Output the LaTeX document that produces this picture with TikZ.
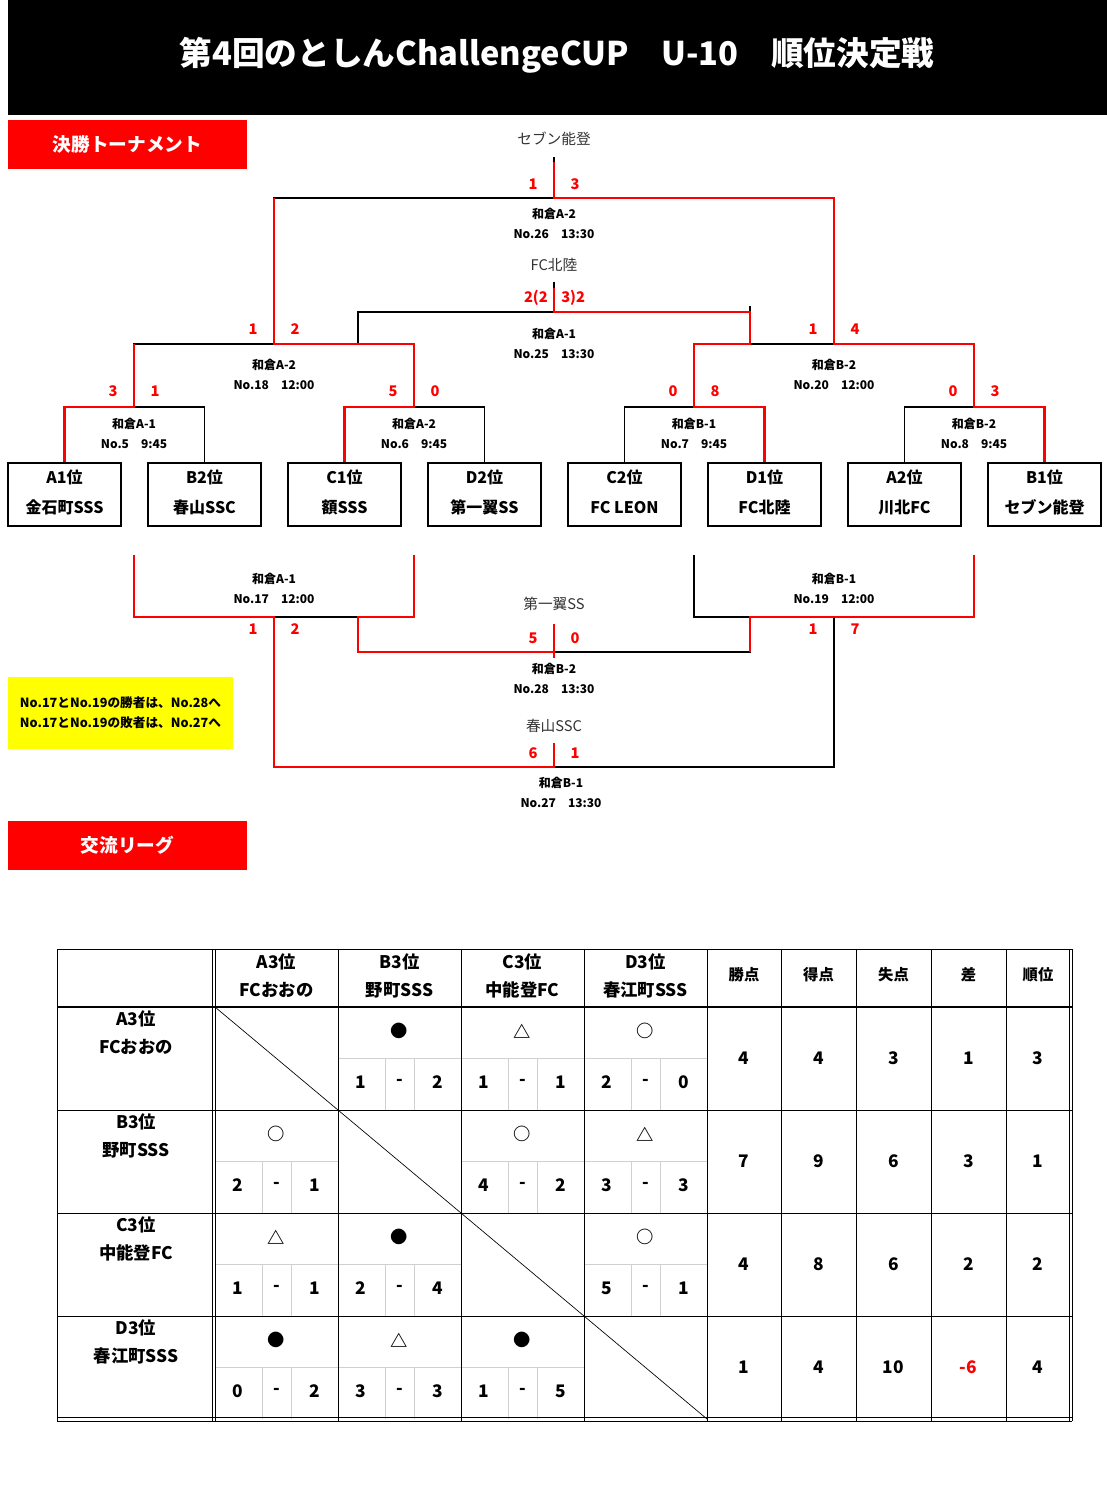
\documentclass[tikz,border=0pt]{standalone}
\usepackage{fontspec}
\setmainfont{Noto Sans CJK JP}
\usetikzlibrary{positioning}

\definecolor{ngrey}{RGB}{51,51,51}
\definecolor{lgrey}{RGB}{208,208,208}
\definecolor{nyellow}{RGB}{255,255,0}

\tikzset{
  team/.style={draw, line width=0.8pt, minimum width=84.75pt, minimum height=47.25pt, inner sep=0pt, align=center, font=\fontsize{12}{22.5}\selectfont\bfseries},
  lose/.style={line width=0.8pt},
  win/.style={line width=2.1pt, red},
  score/.style={text=red, inner sep=0pt, font=\fontsize{11}{13}\selectfont\bfseries},
  match/.style={align=center, inner sep=0pt, font=\fontsize{9}{15}\selectfont\bfseries},
  pname/.style={inner sep=0pt, text=ngrey, font=\fontsize{11}{13}\selectfont},
  banner/.style={fill=red, text=white, minimum width=179.25pt, minimum height=36.75pt, font=\fontsize{14}{16}\selectfont\bfseries},
  tbl/.style={line width=0.75pt},
  thin/.style={lgrey, line width=0.75pt},
  cell/.style={inner sep=0pt, align=center, font=\fontsize{13}{21}\selectfont\bfseries},
  head/.style={inner sep=0pt, font=\fontsize{11.5}{14}\selectfont\bfseries},
}

\begin{document}
\begin{tikzpicture}[x=0.75pt,y=-0.75pt]
\useasboundingbox (0,0) rectangle (1107,1511);

% title and banners
\fill (8,0) rectangle (1107,115);
\node[text=white, font=\fontsize{24.5}{30}\selectfont\bfseries] (title) at (557,55) {第4回のとしんChallengeCUP　U-10　順位決定戦};
\node[banner] (kessho) at (127.5,144.5) {決勝トーナメント};
\node[banner] (league) at (127.5,845.5) {交流リーグ};

% teams
\foreach \rk/\tm [count=\k] in {A1位/金石町SSS, B2位/春山SSC, C1位/額SSS, D2位/第一翼SS, C2位/FC LEON, D1位/FC北陸, A2位/川北FC, B1位/セブン能登}
  \node[team] (t\k) at (-75.5+140*\k,494.5) {\rk\\\tm\vphantom{位}\rule[-4pt]{0pt}{4pt}};

% junctions
\coordinate (c5) at (134,407);
\coordinate (c6) at (414,407);
\coordinate (c7) at (694,407);
\coordinate (c8) at (974,407);
\coordinate (c18) at (274,344);
\coordinate (c20) at (834,344);
\coordinate (c25) at (554,312);
\coordinate (c26) at (554,198);
\coordinate (a25) at (358,344);
\coordinate (b25) at (750,344);
\coordinate (e25) at (750,306);
\coordinate (k26) at (554,157);
\coordinate (r26) at (554,162);
\coordinate (k25) at (554,282);
\coordinate (r25) at (554,288);

\coordinate (p17) at (134,555);
\coordinate (q17) at (414,555);
\coordinate (p19) at (694,555);
\coordinate (q19) at (974,555);
\coordinate (c17) at (274,617);
\coordinate (c19) at (834,617);
\coordinate (f17) at (358,617);
\coordinate (f19) at (750,617);
\coordinate (c28) at (554,652);
\coordinate (c27) at (554,767);
\coordinate (u28) at (554,624);
\coordinate (v28) at (554,658);
\coordinate (u27) at (554,743);

% bracket
\draw[lose] (t1.north) |- (c5) -| (t2.north);
\draw[lose] (t3.north) |- (c6) -| (t4.north);
\draw[lose] (t5.north) |- (c7) -| (t6.north);
\draw[lose] (t7.north) |- (c8) -| (t8.north);
\draw[lose] (c5) |- (c18) -| (c6);
\draw[lose] (c7) |- (c20) -| (c8);
\draw[lose] (c18) |- (c26) -| (c20);
\draw[lose] (a25) |- (c25) -| (e25) -- (b25);
\draw[lose] (c26) -- (k26);
\draw[lose] (c25) -- (k25);
\draw[lose] (p17) |- (c17) -| (q17);
\draw[lose] (p19) |- (c19) -| (q19);
\draw[lose] (f17) |- (c28) -| (f19);
\draw[lose] (c17) |- (c27) -| (c19);

\begin{scope}[win]
\draw (t1.north) |- (c5) -- (c5 |- c18);
\draw (t3.north) |- (c6) -- (c6 |- c18) -- (c18) -- (c18 |- c26);
\draw (t6.north) |- (c7) -- (c7 |- c20) -- (b25) -- (b25 |- c25) -- (c25) -- (r25);
\draw (t8.north) |- (c8) -- (c8 |- c20) -- (c20) -- (c20 |- c26) -- (c26) -- (r26);
\draw (p17) |- (c17) |- (c27) -- (u27);
\draw (q17) |- (f17) |- (c28);
\draw (u28) -- (v28);
\draw (q19) |- (f19) -- (f19 |- c28);
\end{scope}

% scores
\foreach \x/\y/\s [count=\k] in {533/184/1, 575/184/3, 253/329/1, 295/329/2, 813/329/1, 855/329/4,
  113/391/3, 155/391/1, 393/391/5, 435/391/0, 673/391/0, 715/391/8, 953/391/0, 995/391/3,
  253/629/1, 295/629/2, 813/629/1, 855/629/7, 533/638/5, 575/638/0, 533/753/6, 575/753/1}
  \node[score] (s\k) at (\x,\y) {\s};
\node[score, anchor=east] (pkl) at (548,298) {2(2};
\node[score, anchor=west] (pkr) at (561,298) {3)2};

% match labels
\foreach \x/\y/\ct/\no [count=\k] in {554/223/和倉A-2/No.26　13:30, 554/343/和倉A-1/No.25　13:30,
  274/374/和倉A-2/No.18　12:00, 834/374/和倉B-2/No.20　12:00,
  134/433/和倉A-1/No.5　9:45, 414/433/和倉A-2/No.6　9:45, 694/433/和倉B-1/No.7　9:45, 974/433/和倉B-2/No.8　9:45,
  274/588/和倉A-1/No.17　12:00, 834/588/和倉B-1/No.19　12:00,
  554/678/和倉B-2/No.28　13:30, 561/792/和倉B-1/No.27　13:30}
  \node[match] (m\k) at (\x,\y) {\ct\\\no};

% winners
\node[pname] (w26) at (554,139) {セブン能登};
\node[pname] (w25) at (554,265) {FC北陸};
\node[pname] (w28) at (554,604) {第一翼SS};
\node[pname] (w27) at (554,726) {春山SSC};

\node[fill=nyellow, minimum width=168.75pt, minimum height=54pt, align=center, font=\fontsize{9.5}{15}\selectfont\bfseries] (note) at (120.5,713) {No.17とNo.19の勝者は、No.28へ\\No.17とNo.19の敗者は、No.27へ};

% league table
\foreach \row in {0,...,3}
  \foreach \col in {0,...,3} {
    \ifnum\row=\col
      \draw[line width=0.5pt] (215+123*\col,1007+103*\row) -- ++(123,103);
    \else
      \draw[thin] (215+123*\col,1058.5+103*\row) -- ++(123,0);
      \draw[thin] (262+123*\col,1058.5+103*\row) -- ++(0,51.5);
      \draw[thin] (291+123*\col,1058.5+103*\row) -- ++(0,51.5);
    \fi
  }
\draw[tbl] (57,949) -- (1072,949);
\draw[line width=1.3pt] (57,1007) -- (1072,1007);
\foreach \y in {1110,1213,1316,1417,1421}
  \draw[tbl] (57,\y) -- (1072,\y);
\foreach \x in {57,212.5,215.5,338,461,584,707,781,856,931,1006,1069,1072}
  \draw[tbl] (\x,949) -- (\x,1421);

\foreach \nm/\rk [count=\k from 0] in {A3位/FCおおの, B3位/野町SSS, C3位/中能登FC, D3位/春江町SSS} {
  \node[cell] (h\k) at (276.5+123*\k,976) {\nm\\\rk};
  \node[cell] (r\k) at (136,1033+103*\k) {\nm\\\rk};
}
\foreach \x/\t [count=\k] in {744/勝点, 818.5/得点, 893.5/失点, 968.5/差, 1038/順位}
  \node[head] (sh\k) at (\x,975) {\t};

\foreach \row/\col/\sym/\ga/\gb in {0/1/●/1/2, 0/2/△/1/1, 0/3/○/2/0,
  1/0/○/2/1, 1/2/○/4/2, 1/3/△/3/3,
  2/0/△/1/1, 2/1/●/2/4, 2/3/○/5/1,
  3/0/●/0/2, 3/1/△/3/3, 3/2/●/1/5} {
  \node[cell] (sy\row\col) at (276.5+123*\col,1031+103*\row) {\sym};
  \node[cell] (ga\row\col) at (238+123*\col,1082+103*\row) {\ga};
  \node[cell] (gd\row\col) at (276.5+123*\col,1082+103*\row) {-};
  \node[cell] (gb\row\col) at (314.5+123*\col,1082+103*\row) {\gb};
}

\foreach \row/\pts/\gf/\gl/\gdiff/\rank in {0/4/4/3/1/3, 1/7/9/6/3/1, 2/4/8/6/2/2, 3/1/4/10/{\textcolor{red}{-6}}/4} {
  \node[cell] (pt\row) at (744,1058.5+103*\row) {\pts};
  \node[cell] (gf\row) at (818.5,1058.5+103*\row) {\gf};
  \node[cell] (gl\row) at (893.5,1058.5+103*\row) {\gl};
  \node[cell] (df\row) at (968.5,1058.5+103*\row) {\gdiff};
  \node[cell] (rk\row) at (1038,1058.5+103*\row) {\rank};
}
\end{tikzpicture}
\end{document}
